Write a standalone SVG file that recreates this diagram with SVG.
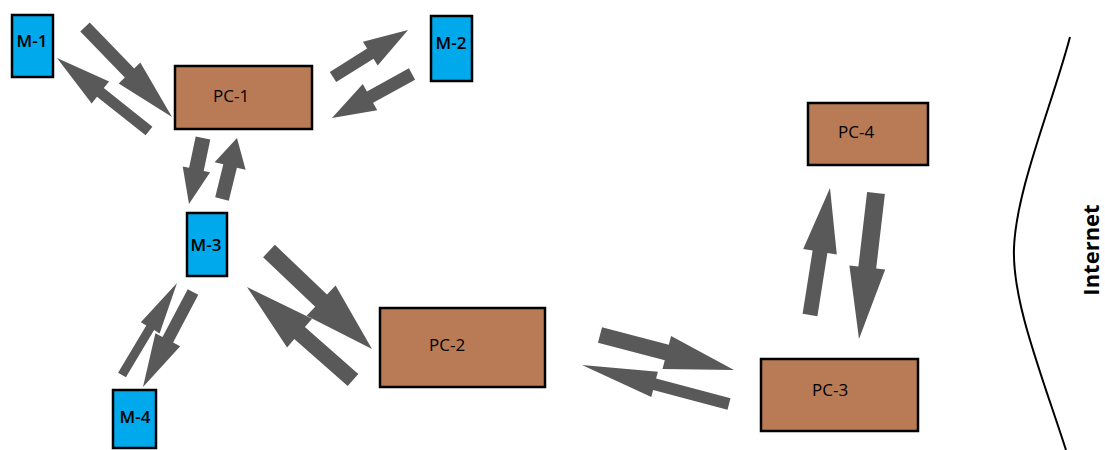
<svg xmlns="http://www.w3.org/2000/svg" width="1105" height="450" viewBox="0 0 1105 450">
<style>
.m{fill:#00a9ec;stroke:#000;stroke-width:2.5}
.pc{fill:#b87b56;stroke:#000;stroke-width:2.5}
.ml{font-family:"Open Sans",sans-serif;font-size:17px;font-weight:600;fill:#000;text-anchor:middle}
.pl{font-family:"Open Sans",sans-serif;font-size:17px;font-weight:500;fill:#000}
.ar{fill:#595959}
</style>
<rect width="1105" height="450" fill="#fff"/>
<g id="connectors">
<polygon class="ar" points="80.3,31.5 124.8,77.5 118.7,83.4 172,117 140.3,62.6 134.2,68.5 89.7,22.5"/>
<polygon class="ar" points="152.4,126.7 103.8,88.1 109.1,81.4 57,58 91.7,103.4 97,96.7 145.6,135.3"/>
<polygon class="ar" points="336.2,82.1 373.5,58.7 377.7,65.5 408,30 362.9,41.7 367.1,48.5 329.8,71.9"/>
<polygon class="ar" points="408.9,68.3 366.9,91.4 362.8,84 332,118 377.2,110.2 373.1,102.8 415.1,79.7"/>
<polygon class="ar" points="195.7,136.4 189.1,167.7 182.7,166.4 189,204 210.1,172.2 203.7,170.9 210.3,139.6"/>
<polygon class="ar" points="228.8,200.7 236.9,167.7 245.6,169.8 237,138 214.6,162.2 223.3,164.3 215.2,197.3"/>
<polygon class="ar" points="125.9,377.3 154.1,330.1 159.6,333.4 177,283 140.8,322.2 146.3,325.5 118.1,372.7"/>
<polygon class="ar" points="187.7,289.2 162.5,337 155.4,333.3 143,387 180.2,346.3 173.1,342.6 198.3,294.8"/>
<polygon class="ar" points="263.1,257.2 315.2,306.8 306.6,315.8 372,349 335.6,285.4 327,294.4 274.9,244.8"/>
<polygon class="ar" points="358.3,374 304.9,327.1 312.1,318.8 247,287 287.1,347.4 294.3,339.1 347.7,386"/>
<polygon class="ar" points="598,342.7 664.8,360.2 662.5,369 734,370 671.1,336 668.8,344.8 602,327.3"/>
<polygon class="ar" points="730.5,398.2 656.1,378.5 657.9,371.7 582,365 651.3,396.9 653.1,390.1 727.5,409.8"/>
<polygon class="ar" points="817.4,316.2 827.4,253 836.8,254.5 830,188 803.2,249.1 812.6,250.6 802.6,313.8"/>
<polygon class="ar" points="867.1,192 858.4,266.5 849.4,265.4 859,339 885.2,269.6 876.2,268.5 884.9,194"/>
</g>
<g id="M-1"><rect class="m" x="12" y="15" width="41" height="62"/><text class="ml" x="32" y="47">M-1</text></g>
<g id="M-2"><rect class="m" x="431" y="16" width="41" height="65"/><text class="ml" x="451" y="49">M-2</text></g>
<g id="M-3"><rect class="m" x="187" y="213" width="40" height="63"/><text class="ml" x="206" y="251">M-3</text></g>
<g id="M-4"><rect class="m" x="113" y="390" width="43" height="58"/><text class="ml" x="135" y="423">M-4</text></g>
<g id="PC-1"><rect class="pc" x="175" y="66" width="137" height="63"/><text class="pl" x="213" y="102">PC-1</text></g>
<g id="PC-2"><rect class="pc" x="380" y="308" width="165" height="79"/><text class="pl" x="429" y="351">PC-2</text></g>
<g id="PC-3"><rect class="pc" x="761" y="359" width="157" height="72"/><text class="pl" x="812" y="396">PC-3</text></g>
<g id="PC-4"><rect class="pc" x="808" y="103" width="120" height="62"/><text class="pl" x="838" y="138">PC-4</text></g>
<g id="Internet">
<path d="M1070,37 C1052,105 1016,190 1014,248 C1012,300 1040,370 1066,450" fill="none" stroke="#000" stroke-width="2"/>
<text transform="translate(1099,250) rotate(-90)" font-family="Open Sans, sans-serif" font-size="22" font-weight="700" text-anchor="middle">Internet</text>
</g>
</svg>
